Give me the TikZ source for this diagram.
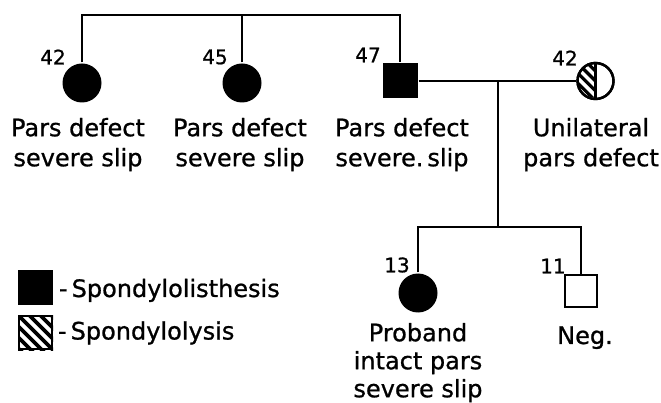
\documentclass[tikz,border=0pt]{standalone}
\usepackage{fontspec}
\setmainfont{DejaVu Sans}[BoldFont=DejaVu Sans, BoldFeatures={FakeBold=0.9}]
\begin{document}
\begin{tikzpicture}[x=1pt,y=1pt,line width=2pt,
  affcirc/.style={circle, fill=black, minimum size=39pt, inner sep=0pt},
  affsq/.style={rectangle, fill=black, minimum size=35pt, inner sep=0pt},
  opensq/.style={rectangle, fill=white, draw=black, line width=2.4pt, minimum size=32pt, inner sep=0pt},
  halfcirc/.style={circle, draw=black, line width=2.4pt, minimum size=36pt, inner sep=0pt},
  hatchsq/.style={rectangle, draw=black, line width=2pt, minimum size=33pt, inner sep=0pt},
  age/.style={font=\fontsize{20}{20}\selectfont\bfseries, inner sep=0pt},
  lbl/.style={font=\fontsize{24}{30}\selectfont\bfseries, align=center, anchor=north, inner sep=0pt},
  keytxt/.style={font=\fontsize{24}{30}\selectfont\bfseries, anchor=base west, inner sep=0pt},
  stripe/.style={line width=3.6pt},
  thinstripe/.style={line width=3.2pt}
]
\useasboundingbox (0,0) rectangle (661,-403);

% generation II: three siblings
\node[affcirc] (c42) at (82,-83) {};
\node[affcirc] (c45) at (242,-83) {};
\node[affsq]   (s47) at (400,-81) {};
% spouse, half hatched
\node[halfcirc] (sp) at (595.5,-81) {};
\begin{scope}
  \clip (sp.north) arc[start angle=90, end angle=270, radius=18pt] -- cycle;
  \foreach \k in {-5,...,5}
    \draw[thinstripe] ([xshift=\k*9.9pt]sp.center) ++(-30,30) -- ++(60,-60);
\end{scope}
\node[halfcirc] at (sp.center) {};
\draw[line width=2.4pt] (sp.north) -- (sp.south);

% generation III
\node[affcirc] (pb) at (418,-293) {};
\node[opensq]  (neg) at (581,-291) {};

% connectors
\coordinate (topbar) at (0,-15);
\coordinate (sibbar) at (0,-227);
\coordinate (mate) at (498,-81);
\draw (c42.north) |- (s47.north |- topbar) -- (s47.north);
\draw (c45.north) -- (c45.north |- topbar);
\draw (s47.east) -- (sp.west);
\draw (mate) -- (mate |- sibbar);
\draw (pb.north) |- (neg.north |- sibbar) -- (neg.north);

% ages
\node[age] (a1) at (53,-57) {42};
\node[age] (a2) at (215,-57) {45};
\node[age] (a3) at (368,-55) {47};
\node[age] (a4) at (565,-58) {42};
\node[age] (a5) at (397,-265) {13};
\node[age] (a6) at (553,-266) {11};

% descriptions
\node[lbl] (t1) at (78,-117) {Pars defect\\severe slip};
\node[lbl] (t2) at (240,-117) {Pars defect\\severe slip};
\node[lbl] (t3) at (402,-117) {Pars defect\\severe.\,slip};
\node[lbl] (t4) at (591,-117) {Unilateral\\pars defect};
\node[lbl, font=\fontsize{24}{28}\selectfont\bfseries] (t5) at (418,-322) {Proband\\intact pars\\severe slip};
\node[lbl] (t6) at (585,-325.5) {Neg.};

% key
\node[affsq] (k1) at (35.5,-287.5) {};
\node[hatchsq] (k2) at (35.5,-332.5) {};
\begin{scope}
  \clip (k2.south west) rectangle (k2.north east);
  \foreach \k in {-6,...,6}
    \draw[stripe] ([xshift=\k*11pt]k2.center) ++(-40,40) -- ++(80,-80);
\end{scope}
\node[hatchsq] at (k2.center) {};
\node[keytxt] (k1t) at ([xshift=4pt,yshift=-9.5pt]k1.east) {-\,Spondylolisthesis};
\node[keytxt] (k2t) at ([xshift=4pt,yshift=-7pt]k2.east) {-\,Spondylolysis};
\end{tikzpicture}
\end{document}
